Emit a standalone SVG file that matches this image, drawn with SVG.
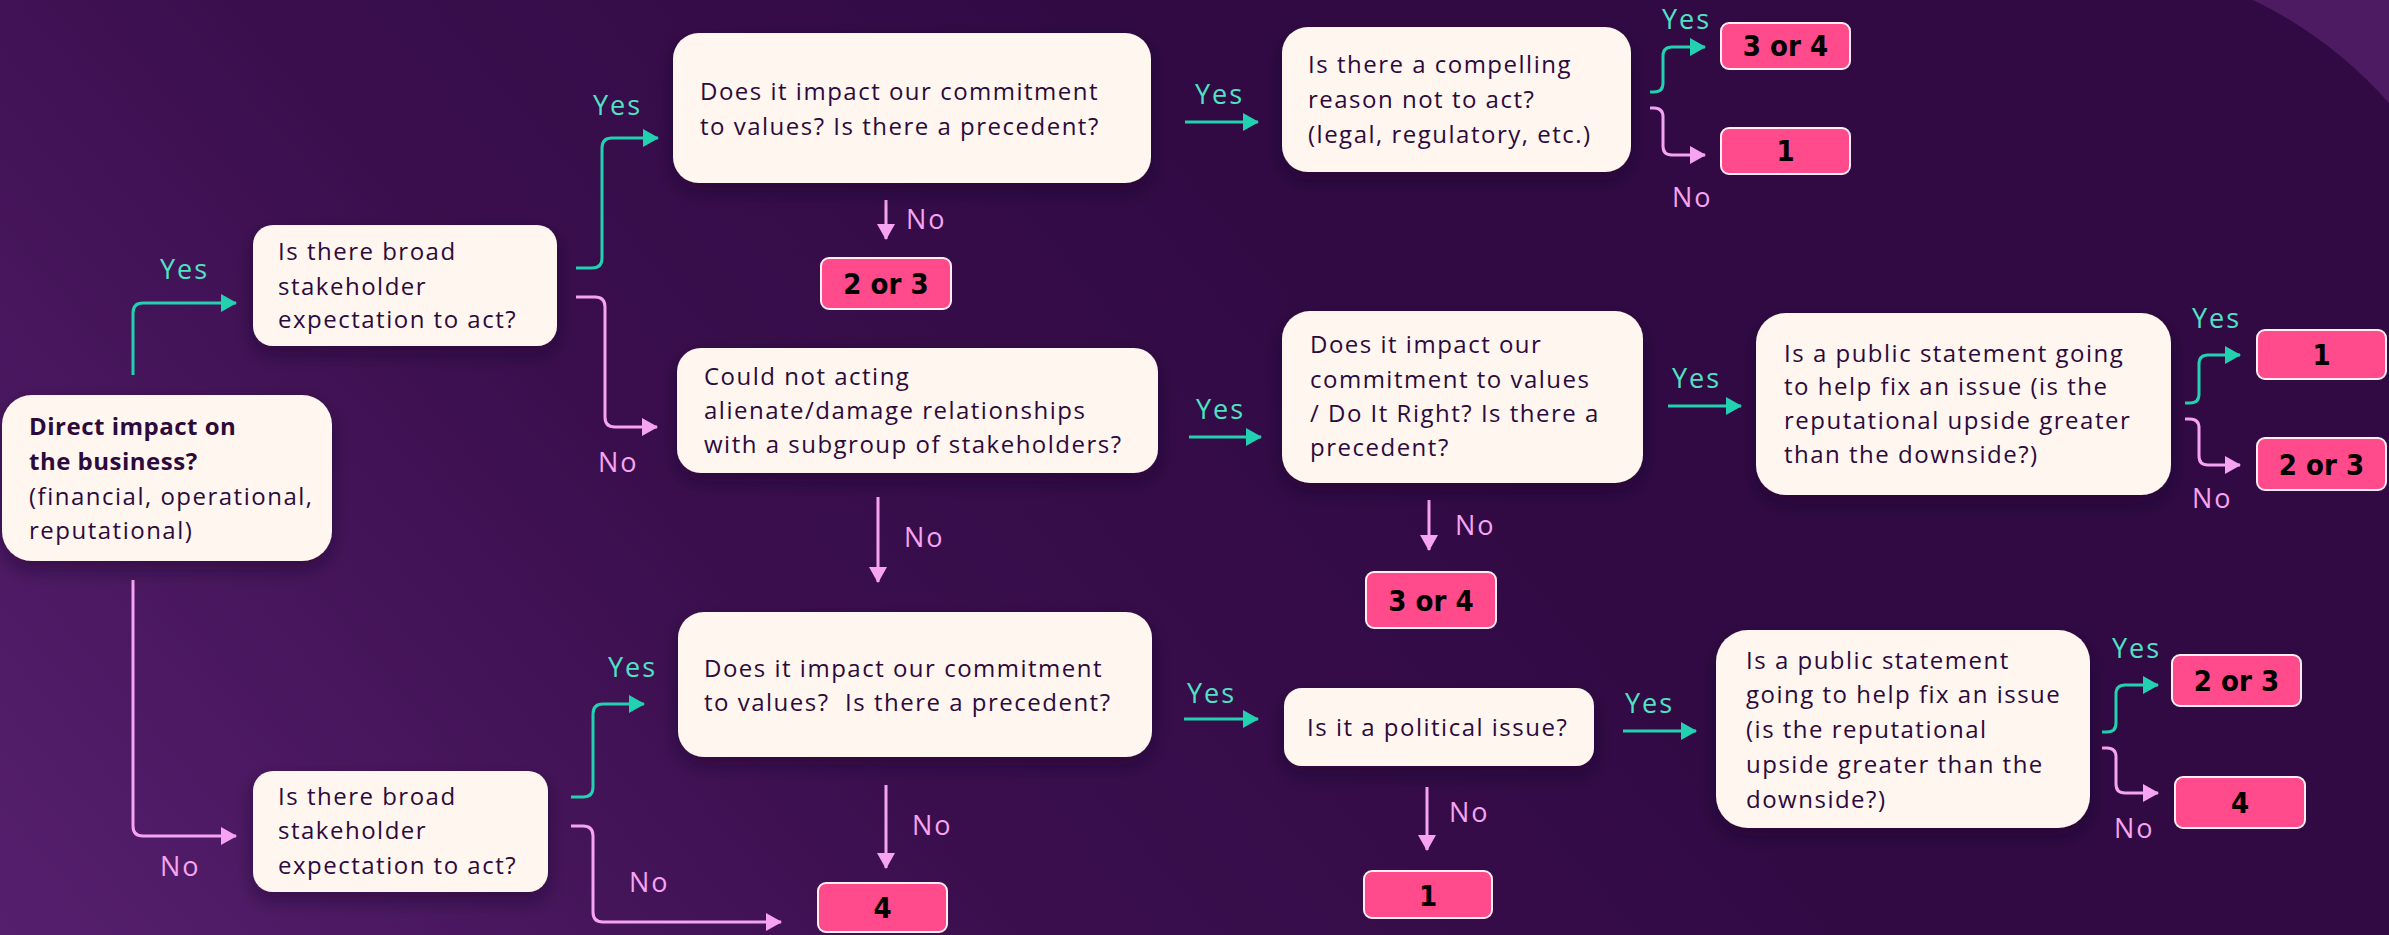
<svg xmlns="http://www.w3.org/2000/svg" width="2389" height="935" viewBox="0 0 2389 935">
<defs>
<linearGradient id="bg" x1="0" y1="935" x2="1100" y2="0" gradientUnits="userSpaceOnUse">
<stop offset="0" stop-color="#561f6e"/>
<stop offset="0.55" stop-color="#3a0e4d"/>
<stop offset="1" stop-color="#310a44"/>
</linearGradient>
<filter id="sh" x="-20%" y="-20%" width="140%" height="160%">
<feDropShadow dx="0" dy="8" stdDeviation="9" flood-color="#1a0024" flood-opacity="0.45"/>
</filter>
<marker id="aT" viewBox="0 0 16 18" refX="15" refY="9" markerWidth="16" markerHeight="18" markerUnits="userSpaceOnUse" orient="auto">
<path d="M0,0 L16,9 L0,18 Z" fill="#22d1b0"/>
</marker>
<marker id="aP" viewBox="0 0 16 18" refX="15" refY="9" markerWidth="16" markerHeight="18" markerUnits="userSpaceOnUse" orient="auto">
<path d="M0,0 L16,9 L0,18 Z" fill="#f6a4f2"/>
</marker>
<style>
.node{fill:#fff6f0;filter:url(#sh)}
.nt{font-family:'Open Sans',Lato,sans-serif;font-size:24px;letter-spacing:1.5px;fill:#2c0a3c}
.nb{font-weight:700;letter-spacing:0.5px}
.res{fill:#ff4a8b;stroke:#ffeef3;stroke-width:2}
.rt{font-family:'DejaVu Sans Condensed','Liberation Sans',sans-serif;font-weight:700;font-size:29px;fill:#000;text-anchor:middle}
.yes{fill:none;stroke:#22d1b0;stroke-width:3;marker-end:url(#aT)}
.no{fill:none;stroke:#f6a4f2;stroke-width:3;marker-end:url(#aP)}
.ly{font-family:'Open Sans',Lato,sans-serif;font-size:27px;fill:#4fe2c4;letter-spacing:2px}
.ln{font-family:'Open Sans',Lato,sans-serif;font-size:27px;fill:#f6a4f2;letter-spacing:2px}
</style>
</defs>
<rect width="2389" height="935" fill="url(#bg)"/>
<path d="M2253,0 A431,431 0 0,1 2389,103 L2389,0 Z" fill="#4d1b62"/>

<g id="connectors">
<path class="yes" d="M133,375 V313 Q133,303 143,303 H236"/>
<path class="yes" d="M576,268 H592 Q602,268 602,258 V148 Q602,138 612,138 H658"/>
<path class="yes" d="M1185,122 H1258"/>
<path class="yes" d="M1650,92 H1654 Q1663,92 1663,83 V56 Q1663,47 1672,47 H1705"/>
<path class="yes" d="M1189,437 H1261"/>
<path class="yes" d="M1668,406 H1741"/>
<path class="yes" d="M2185,403 H2190 Q2199,403 2199,394 V364 Q2199,355 2208,355 H2240"/>
<path class="yes" d="M571,797 H583 Q593,797 593,787 V714 Q593,704 603,704 H644"/>
<path class="yes" d="M1184,719 H1258"/>
<path class="yes" d="M1623,731 H1696"/>
<path class="yes" d="M2102,732 H2107 Q2116,732 2116,723 V694 Q2116,685 2125,685 H2158"/>
<path class="no" d="M133,580 V826 Q133,836 143,836 H236"/>
<path class="no" d="M576,297 H595 Q605,297 605,307 V417 Q605,427 615,427 H657"/>
<path class="no" d="M886,200 V239"/>
<path class="no" d="M1650,108 H1654 Q1663,108 1663,117 V146 Q1663,155 1672,155 H1705"/>
<path class="no" d="M878,497 V582"/>
<path class="no" d="M1429,500 V550"/>
<path class="no" d="M2185,419 H2190 Q2199,419 2199,428 V456 Q2199,465 2208,465 H2240"/>
<path class="no" d="M571,826 H583 Q593,826 593,836 V912 Q593,922 603,922 H781"/>
<path class="no" d="M886,785 V868"/>
<path class="no" d="M1427,787 V850"/>
<path class="no" d="M2102,748 H2107 Q2116,748 2116,757 V784 Q2116,793 2125,793 H2158"/>
<text class="ly" x="160" y="279">Yes</text>
<text class="ly" x="593" y="115">Yes</text>
<text class="ly" x="1195" y="104">Yes</text>
<text class="ly" x="1662" y="29">Yes</text>
<text class="ly" x="1196" y="419">Yes</text>
<text class="ly" x="1672" y="388">Yes</text>
<text class="ly" x="2192" y="328">Yes</text>
<text class="ly" x="608" y="677">Yes</text>
<text class="ly" x="1187" y="703">Yes</text>
<text class="ly" x="1625" y="713">Yes</text>
<text class="ly" x="2112" y="658">Yes</text>
<text class="ln" x="160" y="876">No</text>
<text class="ln" x="598" y="472">No</text>
<text class="ln" x="906" y="229">No</text>
<text class="ln" x="1672" y="207">No</text>
<text class="ln" x="904" y="547">No</text>
<text class="ln" x="1455" y="535">No</text>
<text class="ln" x="2192" y="508">No</text>
<text class="ln" x="629" y="892">No</text>
<text class="ln" x="912" y="835">No</text>
<text class="ln" x="1449" y="822">No</text>
<text class="ln" x="2114" y="838">No</text>
</g>

<g id="n-direct">
<rect class="node" x="2" y="395" width="330" height="166" rx="30"/>
<text class="nt nb" x="29" y="435">Direct impact on</text>
<text class="nt nb" x="29" y="470">the business?</text>
<text class="nt" x="29" y="505">(financial, operational,</text>
<text class="nt" x="29" y="539">reputational)</text>
</g>
<g id="n-broad1">
<rect class="node" x="253" y="225" width="304" height="121" rx="20"/>
<text class="nt" x="278" y="260">Is there broad</text>
<text class="nt" x="278" y="295">stakeholder</text>
<text class="nt" x="278" y="328">expectation to act?</text>
</g>
<g id="n-values1">
<rect class="node" x="673" y="33" width="478" height="150" rx="26"/>
<text class="nt" x="700" y="100">Does it impact our commitment</text>
<text class="nt" x="700" y="135">to values? Is there a precedent?</text>
</g>
<g id="n-compelling">
<rect class="node" x="1282" y="27" width="349" height="145" rx="26"/>
<text class="nt" x="1308" y="73">Is there a compelling</text>
<text class="nt" x="1308" y="108">reason not to act?</text>
<text class="nt" x="1308" y="143">(legal, regulatory, etc.)</text>
</g>
<g id="r-34a">
<rect class="res" x="1721" y="23" width="129" height="46" rx="8"/>
<text class="rt" x="1785.5" y="56">3 or 4</text>
</g>
<g id="r-1a">
<rect class="res" x="1721" y="128" width="129" height="46" rx="8"/>
<text class="rt" x="1785.5" y="161">1</text>
</g>
<g id="r-23a">
<rect class="res" x="821" y="258" width="130" height="51" rx="8"/>
<text class="rt" x="886" y="294">2 or 3</text>
</g>
<g id="n-alienate">
<rect class="node" x="677" y="348" width="481" height="125" rx="24"/>
<text class="nt" x="704" y="385">Could not acting</text>
<text class="nt" x="704" y="419">alienate/damage relationships</text>
<text class="nt" x="704" y="453">with a subgroup of stakeholders?</text>
</g>
<g id="n-values2">
<rect class="node" x="1282" y="311" width="361" height="172" rx="28"/>
<text class="nt" x="1310" y="353">Does it impact our</text>
<text class="nt" x="1310" y="388">commitment to values</text>
<text class="nt" x="1310" y="422">/ Do It Right? Is there a</text>
<text class="nt" x="1310" y="456">precedent?</text>
</g>
<g id="n-public1">
<rect class="node" x="1756" y="313" width="415" height="182" rx="30"/>
<text class="nt" x="1784" y="362">Is a public statement going</text>
<text class="nt" x="1784" y="395">to help fix an issue (is the</text>
<text class="nt" x="1784" y="429">reputational upside greater</text>
<text class="nt" x="1784" y="463">than the downside?)</text>
</g>
<g id="r-1b">
<rect class="res" x="2257" y="330" width="129" height="49" rx="8"/>
<text class="rt" x="2321.5" y="365">1</text>
</g>
<g id="r-23b">
<rect class="res" x="2257" y="438" width="129" height="52" rx="8"/>
<text class="rt" x="2321.5" y="475">2 or 3</text>
</g>
<g id="r-34b">
<rect class="res" x="1366" y="572" width="130" height="56" rx="8"/>
<text class="rt" x="1431" y="611">3 or 4</text>
</g>
<g id="n-broad2">
<rect class="node" x="253" y="771" width="295" height="121" rx="20"/>
<text class="nt" x="278" y="805">Is there broad</text>
<text class="nt" x="278" y="839">stakeholder</text>
<text class="nt" x="278" y="874">expectation to act?</text>
</g>
<g id="n-values3">
<rect class="node" x="678" y="612" width="474" height="145" rx="26"/>
<text class="nt" x="704" y="677">Does it impact our commitment</text>
<text class="nt" x="704" y="711" xml:space="preserve">to values?  Is there a precedent?</text>
</g>
<g id="r-4a">
<rect class="res" x="818" y="883" width="129" height="49" rx="8"/>
<text class="rt" x="882.5" y="918">4</text>
</g>
<g id="n-political">
<rect class="node" x="1284" y="688" width="310" height="78" rx="18"/>
<text class="nt" x="1307" y="736">Is it a political issue?</text>
</g>
<g id="r-1c">
<rect class="res" x="1364" y="871" width="128" height="47" rx="8"/>
<text class="rt" x="1428" y="906">1</text>
</g>
<g id="n-public2">
<rect class="node" x="1716" y="630" width="374" height="198" rx="32"/>
<text class="nt" x="1746" y="669">Is a public statement</text>
<text class="nt" x="1746" y="703">going to help fix an issue</text>
<text class="nt" x="1746" y="738">(is the reputational</text>
<text class="nt" x="1746" y="773">upside greater than the</text>
<text class="nt" x="1746" y="808">downside?)</text>
</g>
<g id="r-23c">
<rect class="res" x="2172" y="655" width="129" height="51" rx="8"/>
<text class="rt" x="2236.5" y="691">2 or 3</text>
</g>
<g id="r-4b">
<rect class="res" x="2175" y="777" width="130" height="51" rx="8"/>
<text class="rt" x="2240" y="813">4</text>
</g>
</svg>
